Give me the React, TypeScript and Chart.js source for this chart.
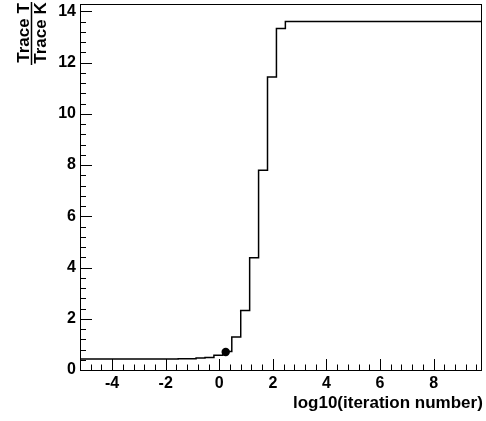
import React, { useEffect, useRef } from "react";
import { Chart, registerables } from "chart.js";

Chart.register(...registerables);

// Histogram: 45 bins from -5.2 to 9.8 (width 1/3)
const X_MIN = -5.2;
const X_MAX = 9.8;
const N_BINS = 45;
const binValues = [
  0.43, 0.43, 0.43, 0.43, 0.43, 0.43, 0.43, 0.43, 0.43, 0.43, 0.43,
  0.44, 0.44, 0.47, 0.49, 0.58, 0.72, 1.29, 2.32, 4.38, 7.8, 11.44, 13.33,
  13.6, 13.6, 13.6, 13.6, 13.6, 13.6, 13.6, 13.6, 13.6, 13.6, 13.6, 13.6,
  13.6, 13.6, 13.6, 13.6, 13.6, 13.6, 13.6, 13.6, 13.6, 13.6,
];
const markerX = [0.24];
const markerY = [0.7];
const xTickLabels = [-4, -2, 0, 2, 4, 6, 8];
const yTickLabels = [0, 2, 4, 6, 8, 10, 12, 14];
const Y_MAX = 14.28;
const xTitle = "log10(iteration number)";
const yTitleTop = "Trace T";
const yTitleBottom = "Trace K";

const FONT = '"Liberation Sans", Arial, Helvetica, sans-serif';

const rootAxesPlugin = {
  id: "rootAxes",
  afterDatasetsDraw(chart: any) {
    const ctx = chart.ctx as CanvasRenderingContext2D;
    const { left, right, top, bottom } = chart.chartArea;
    const xs = chart.scales.x;
    const ys = chart.scales.y;
    ctx.save();
    ctx.strokeStyle = "#000";
    ctx.lineWidth = 1;
    // frame
    ctx.strokeRect(Math.round(left) + 0.5, Math.round(top) + 0.5, Math.round(right - left) - 1, Math.round(bottom - top));
    // x ticks
    ctx.beginPath();
    for (let i = -24; i <= 48; i++) {
      const v = i * 0.4;
      if (v < X_MIN - 1e-9 || v > X_MAX + 1e-9) continue;
      const major = Math.abs(v / 2 - Math.round(v / 2)) < 1e-6;
      const px = Math.round(xs.getPixelForValue(v)) + 0.5;
      const len = major ? 11 : 5.5;
      ctx.moveTo(px, bottom);
      ctx.lineTo(px, bottom - len);
    }
    // y ticks
    for (let i = 0; i <= 40; i++) {
      const v = i * 0.4;
      if (v > Y_MAX + 1e-9) continue;
      const major = Math.abs(v / 2 - Math.round(v / 2)) < 1e-6;
      const py = Math.round(ys.getPixelForValue(v)) + 0.5;
      const len = major ? 12 : 6;
      ctx.moveTo(left, py);
      ctx.lineTo(left + len, py);
    }
    ctx.stroke();

    // tick labels
    ctx.fillStyle = "#000";
    ctx.font = `bold 16px ${FONT}`;
    ctx.textAlign = "center";
    ctx.textBaseline = "middle";
    for (const v of xTickLabels) {
      ctx.fillText(String(v), xs.getPixelForValue(v), 384);
    }
    ctx.textAlign = "right";
    for (const v of yTickLabels) {
      ctx.fillText(String(v), left - 4, ys.getPixelForValue(v));
    }

    // x title
    ctx.font = `bold 17px ${FONT}`;
    ctx.textAlign = "right";
    ctx.textBaseline = "alphabetic";
    ctx.fillText(xTitle, right + 1, 408);

    // y title (fraction)
    ctx.textAlign = "center";
    ctx.save();
    ctx.translate(28.5, 33);
    ctx.rotate(-Math.PI / 2);
    ctx.fillText(yTitleTop, 0, 0);
    ctx.restore();
    ctx.save();
    ctx.translate(45.5, 33);
    ctx.rotate(-Math.PI / 2);
    ctx.fillText(yTitleBottom, 0, 0);
    ctx.restore();
    ctx.lineWidth = 1.5;
    ctx.beginPath();
    ctx.moveTo(31.5, 2);
    ctx.lineTo(31.5, 65);
    ctx.stroke();
    ctx.restore();
  },
};

export default function App() {
  const ref = useRef<HTMLCanvasElement>(null);
  useEffect(() => {
    if (!ref.current) return;
    const width = (X_MAX - X_MIN) / N_BINS;
    const stepData = binValues.map((v, k) => ({ x: X_MIN + k * width, y: v }));
    stepData.push({ x: X_MAX, y: binValues[binValues.length - 1] });
    const chart = new Chart(ref.current, {
      type: "line",
      data: {
        datasets: [
          {
            data: stepData,
            stepped: "before",
            borderColor: "#000",
            borderWidth: 1.5,
            pointRadius: 0,
            fill: false,
          } as any,
          {
            type: "scatter",
            data: markerX.map((x, i) => ({ x, y: markerY[i] })),
            showLine: false,
            pointRadius: 4.2,
            pointBackgroundColor: "#000",
            pointBorderColor: "#000",
            pointBorderWidth: 0,
          } as any,
        ],
      },
      options: {
        animation: false,
        responsive: false,
        devicePixelRatio: 1,
        layout: { padding: { left: 80, right: 4, top: 4, bottom: 51 } },
        plugins: { legend: { display: false }, tooltip: { enabled: false } },
        scales: {
          x: { type: "linear", min: X_MIN, max: X_MAX, display: false },
          y: { type: "linear", min: 0, max: Y_MAX, display: false },
        },
      },
      plugins: [rootAxesPlugin],
    });
    return () => chart.destroy();
  }, []);
  return (
    <div style={{ position: "fixed", left: 0, top: 0, width: 486, height: 421, background: "#fff" }}>
      <canvas ref={ref} width={486} height={421} style={{ display: "block" }} />
    </div>
  );
}
